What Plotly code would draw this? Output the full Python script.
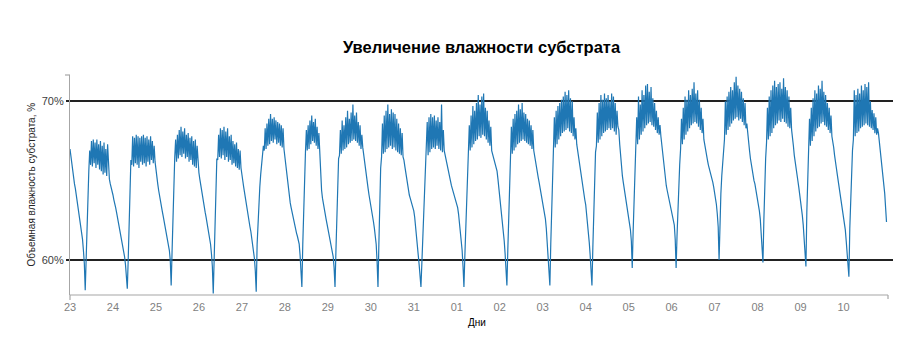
import numpy as np
import plotly.graph_objects as go

# Day tick labels (one per calendar day)
day_labels = ["23", "24", "25", "26", "27", "28", "29", "30", "31",
              "01", "02", "03", "04", "05", "06", "07", "08", "09", "10"]

# Volumetric substrate moisture (%), read every 30 min (48 readings per day)
d23 = [67.0, 66.5, 66.0, 65.6, 65.2, 64.8, 64.5, 64.1, 63.8, 63.4, 63.1, 62.7, 62.4, 61.9, 61.3, 60.6, 59.8, 58.1,
       60.3, 62.2, 64.0, 65.6, 66.9,
       66.0, 67.5, 65.9, 67.6, 66.1, 67.4, 65.8, 67.6, 66.0, 67.3, 65.7, 67.5, 65.6, 67.2, 65.4, 67.4, 65.5, 67.0, 65.3, 67.3, 65.4,
       65.1, 64.8, 64.6, 64.3]
d24 = [64.1, 63.8, 63.6, 63.3, 63.0, 62.7, 62.4, 62.1, 61.8, 61.5, 61.2, 60.9, 60.6, 60.2, 59.7, 59.1, 58.2,
       60.0, 62.3, 64.5, 66.3,
       66.0, 67.8, 65.9, 67.7, 66.1, 67.9, 66.0, 67.8, 65.8, 67.7, 66.2, 67.8, 66.0, 67.9, 66.1, 67.7, 65.9, 67.8, 66.2, 67.6,
       66.0, 67.8, 66.3, 67.5, 66.1, 67.2, 66.2]
d25 = [65.6, 65.2, 64.8, 64.4, 64.0, 63.7, 63.4, 63.1, 62.8, 62.5, 62.2, 61.9, 61.6, 61.3, 61.0, 60.6, 60.0, 58.4,
       60.5, 62.8, 65.0, 66.5,
       67.6, 66.2, 67.9, 66.4, 68.2, 66.6, 68.4, 66.5, 68.1, 66.7, 68.3, 66.4, 67.9, 66.5, 68.0, 66.2, 67.7, 66.3, 67.8, 66.0,
       67.5, 65.9, 67.6, 65.8, 67.2, 65.9]
d26 = [65.5, 65.1, 64.7, 64.3, 64.0, 63.6, 63.3, 63.0, 62.7, 62.4, 62.1, 61.8, 61.4, 61.0, 60.4, 59.6, 57.9,
       60.2, 62.6, 64.8, 66.4,
       66.3, 67.9, 66.5, 68.3, 66.4, 68.2, 66.6, 68.4, 66.3, 68.1, 66.5, 68.3, 66.2, 67.8, 66.3, 67.9, 66.0, 67.5, 66.1, 67.3,
       65.9, 67.4, 65.8, 67.0, 65.7, 66.9, 65.8]
d27 = [65.5, 65.0, 64.6, 64.2, 63.8, 63.5, 63.2, 62.9, 62.5, 62.1, 61.8, 61.4, 61.0, 60.6, 60.1, 59.3, 58.0,
       61.0, 62.5, 63.5, 64.6, 65.4, 66.2, 66.8, 67.2,
       66.9, 68.3, 67.0, 68.6, 67.2, 68.9, 67.3, 69.2, 67.5, 68.9, 67.4, 69.0, 67.6, 68.8, 67.3, 68.7, 67.4, 68.6, 67.2, 68.5,
       67.1, 68.3, 67.0]
d28 = [66.5, 65.9, 65.3, 64.8, 64.4, 64.0, 63.6, 63.3, 63.0, 62.7, 62.4, 62.1, 61.9, 61.7, 61.5, 61.3, 61.0, 60.3, 59.2, 58.3,
       61.0, 63.5, 65.8, 66.8,
       68.2, 66.9, 68.5, 67.0, 68.8, 67.3, 69.1, 67.5, 68.7, 67.4, 68.9, 67.2, 68.4, 67.0, 68.0, 66.8,
       65.0, 64.4, 63.9, 63.5, 63.2, 62.9, 62.6, 62.3]
d29 = [62.0, 61.8, 61.6, 61.3, 61.0, 60.6, 60.2, 59.5, 58.3,
       60.5, 62.8, 64.9, 66.4,
       66.6, 68.2, 66.7, 68.8, 66.9, 68.5, 67.0, 69.0, 67.1, 69.4, 67.3, 68.9, 67.4, 69.3, 67.5, 69.8, 67.6, 69.1, 67.5, 69.3,
       67.4, 68.7, 67.2, 68.5, 67.0, 67.9,
       67.1, 66.6, 66.1, 65.7, 65.3, 64.9, 64.5, 64.1, 63.8]
d30 = [63.5, 63.2, 62.8, 62.4, 62.0, 61.6, 61.0, 59.9, 58.3,
       61.0, 63.6, 65.8,
       66.5, 68.6, 66.7, 69.1, 66.8, 69.4, 67.0, 69.8, 67.1, 69.2, 67.2, 69.5, 67.0, 69.3, 67.1, 69.2, 66.9, 68.9, 66.8, 68.6,
       66.7, 68.3, 66.6, 68.0, 66.5, 66.3,
       65.9, 65.5, 65.1, 64.7, 64.4, 64.1, 63.9, 63.7, 63.5, 63.3]
d31 = [63.1, 62.7, 62.2, 61.7, 60.9, 60.3, 59.7, 59.0, 58.3,
       59.8, 61.2, 62.6, 64.0, 65.3, 66.3,
       68.7, 66.6, 69.0, 66.8, 69.2, 67.0, 69.0, 67.1, 69.1, 67.0, 68.8, 67.2, 69.0, 67.0, 68.7, 66.9, 69.8, 66.8, 68.2, 66.9,
       66.6, 66.3, 66.0, 65.7, 65.4, 65.1, 64.9, 64.7, 64.5, 64.3, 64.1, 63.9, 63.8]
d01 = [63.6, 63.3, 62.9, 62.4, 61.9, 61.4, 60.6, 59.6, 58.3,
       60.2, 62.0, 63.8, 65.4, 66.6,
       68.5, 66.9, 69.1, 67.1, 69.7, 67.3, 69.4, 67.5, 69.9, 67.6, 70.4, 67.8, 69.8, 67.7, 70.3, 67.9, 70.5, 67.8, 69.6, 67.6,
       69.4, 67.4, 68.8, 67.2, 68.4, 66.9,
       66.7, 66.5, 66.3, 66.1, 65.9, 65.6, 65.1, 64.6]
d02 = [64.1, 63.6, 63.1, 62.5, 61.9, 61.2, 60.4, 59.5, 58.4,
       60.6, 62.8, 65.0, 66.5,
       68.4, 66.7, 68.9, 66.9, 69.2, 67.1, 69.4, 67.3, 69.8, 67.4, 69.5, 67.5, 69.9, 67.6, 69.3, 67.5, 69.2, 67.4, 68.9, 67.3,
       68.8, 67.2, 68.5, 67.0, 68.2, 66.9,
       66.5, 66.2, 65.8, 65.5, 65.2, 64.9, 64.6, 64.3, 63.9]
d03 = [63.6, 63.2, 62.9, 62.6, 62.0, 61.1, 60.3, 59.4, 58.4,
       61.0, 63.4, 65.5, 66.8,
       69.0, 67.1, 69.4, 67.3, 69.7, 67.6, 69.9, 67.8, 70.1, 68.0, 70.3, 68.1, 70.6, 68.2, 70.4, 68.3, 70.7, 68.1, 70.2, 68.0,
       70.0, 67.8, 69.0, 67.6, 68.3, 67.3,
       66.9, 66.4, 65.9, 65.5, 65.1, 64.7, 64.4, 64.1, 63.8]
d04 = [63.5, 63.0, 62.4, 61.8, 61.1, 60.3, 59.4, 58.4,
       60.8, 63.0, 65.2, 66.8,
       67.2, 69.3, 67.4, 69.9, 67.6, 70.4, 67.8, 70.1, 68.0, 70.5, 68.1, 70.2, 68.2, 70.4, 68.3, 70.0, 68.2, 70.5, 68.3, 70.3,
       68.1, 69.9, 67.9, 69.4, 68.4, 68.2,
       67.3, 66.4, 65.8, 65.3, 64.9, 64.5, 64.2, 63.9, 63.6, 63.2]
d05 = [62.8, 62.4, 61.9, 61.2, 59.5,
       61.8, 64.0, 65.9, 67.1,
       69.0, 67.3, 70.3, 67.6, 69.8, 67.9, 70.7, 68.1, 70.4, 68.3, 71.0, 68.5, 71.1, 68.6, 70.6, 68.7, 70.9, 68.5, 70.2, 68.4,
       69.9, 68.2, 69.4, 68.0, 69.0, 67.9, 68.5,
       67.8, 67.2, 66.6, 66.0, 65.5, 65.1, 64.7, 64.4, 64.1, 63.8, 63.5, 63.3]
d06 = [63.1, 62.8, 62.5, 62.2, 61.3, 59.5,
       61.5, 63.3, 64.8, 66.0, 67.0,
       68.9, 67.3, 69.6, 67.6, 70.3, 67.9, 70.1, 68.1, 70.7, 68.3, 70.4, 68.5, 70.8, 68.6, 71.2, 68.7, 70.5, 68.6, 70.7, 68.4,
       70.1, 68.2, 69.6, 68.0, 68.9, 67.6,
       67.2, 66.9, 66.6, 66.3, 66.0, 65.8, 65.5, 65.3, 65.1, 64.9, 64.6]
d07 = [64.3, 63.9, 63.5, 62.9, 62.1, 60.0,
       62.7, 64.2, 65.3, 66.2, 66.9, 67.6,
       70.0, 67.9, 70.3, 68.2, 70.6, 68.4, 70.9, 68.6, 70.7, 68.8, 71.2, 68.9, 71.55, 69.0, 71.0, 68.8, 70.8, 68.9, 70.6, 68.7,
       70.2, 68.5, 69.9, 68.3, 68.6,
       67.9, 67.4, 66.9, 66.4, 66.0, 65.6, 65.3, 65.0, 64.8, 64.5, 64.2]
d08 = [63.9, 63.5, 63.1, 62.6, 61.8, 60.6, 59.85,
       62.5, 64.8, 66.4, 67.4,
       69.6, 67.6, 70.3, 67.8, 70.7, 68.0, 71.0, 68.3, 71.3, 68.5, 70.9, 68.6, 71.1, 68.8, 71.2, 68.7, 70.8, 68.9, 71.45, 68.7,
       70.9, 68.6, 70.7, 68.4, 70.3, 68.3, 69.6, 68.2,
       67.8, 67.2, 66.6, 66.1, 65.8, 65.4, 65.0, 64.6, 64.2]
d09 = [63.8, 63.3, 62.8, 62.2, 61.5, 60.6, 59.6,
       63.0, 65.3, 66.8,
       68.9, 67.2, 69.6, 67.5, 70.2, 67.8, 70.7, 68.1, 70.5, 68.3, 71.0, 68.4, 70.8, 68.6, 71.3, 68.7, 70.6, 68.5, 70.4, 68.4,
       69.9, 68.2, 69.6, 68.0, 69.1, 67.8,
       67.5, 67.1, 66.6, 66.3, 65.8, 65.4, 65.0, 64.7, 64.3, 63.9, 63.6, 63.2]
d10 = [62.8, 62.4, 61.9, 61.2, 60.4, 59.6, 58.95,
       62.0, 64.2, 65.8, 66.9, 67.6,
       70.7, 67.8, 70.4, 68.0, 70.8, 68.1, 70.5, 68.3, 71.0, 68.4, 70.7, 68.5, 71.1, 68.6, 70.9, 68.5, 71.2, 68.4, 70.0, 68.3,
       69.45, 68.2, 69.25, 68.0, 69.0, 67.9, 68.3, 68.0,
       67.5, 66.9, 66.3, 65.8, 65.3, 64.8, 64.2, 63.3, 62.4]

days_data = [d23, d24, d25, d26, d27, d28, d29, d30, d31,
             d01, d02, d03, d04, d05, d06, d07, d08, d09, d10]
readings_per_day = 48

# time axis in days since the start of day "23"
x_vals, y_vals = [], []
for k, vals in enumerate(days_data):
    for j, v in enumerate(vals):
        x_vals.append(k + j / readings_per_day)
        y_vals.append(v)

# page layout (the html body adds an 8px offset, compensated here)
OFF = 8
W, H = 921 - OFF, 358 - OFF
L, R, T, B = 69.5 - OFF, 893 - OFF, 75 - OFF, 295 - OFF
x_end_px = 888 - OFF
px_per_day = 43.0
x_max = (R - L) / px_per_day

fig = go.Figure()
fig.add_trace(go.Scatter(
    x=x_vals, y=y_vals, mode="lines",
    line=dict(color="#1f77b4", width=1.2),
    hoverinfo="skip", showlegend=False,
))

font_family = "Liberation Sans, Arial, sans-serif"

xe = (x_end_px - L) / (R - L)
pw, ph = R - L, B - T
shapes = [
    dict(type="line", xref="paper", yref="paper", x0=0, x1=xe, y0=0, y1=0,
         line=dict(color="#a6a6a6", width=1.2)),
    dict(type="line", xref="paper", yref="paper", x0=xe, x1=xe, y0=0, y1=-4 / ph,
         line=dict(color="#a6a6a6", width=1.2)),
    dict(type="line", xref="paper", yref="paper", x0=0, x1=0, y0=0, y1=-5 / ph,
         line=dict(color="#a6a6a6", width=1.2)),
    dict(type="line", xref="paper", yref="paper", x0=-5 / pw, x1=0, y0=1, y1=1,
         line=dict(color="#a6a6a6", width=1.2)),
]

annotations = [
    dict(text="Дни", xref="paper", yref="paper",
         x=(477 - OFF - L) / pw, y=-(322 - OFF - B) / ph, xanchor="center", yanchor="middle",
         showarrow=False, font=dict(family=font_family, size=10, color="black")),
    dict(text="Объемная влажность субстрата, %", xref="paper", yref="paper",
         x=-(L - (30 - OFF)) / pw, y=0.5, xanchor="center", yanchor="middle", textangle=-90,
         showarrow=False, font=dict(family=font_family, size=10, color="#262626")),
]

fig.update_layout(
    width=W, height=H,
    margin=dict(l=L, r=W - R, t=T, b=H - B, pad=0, autoexpand=False),
    paper_bgcolor="white", plot_bgcolor="white",
    font=dict(family=font_family, size=11, color="#404040"),
    title=dict(text="<b>Увеличение влажности субстрата</b>",
               x=0.5, xanchor="center", xref="paper",
               y=1 - (47 - OFF) / H, yanchor="middle", yref="container",
               font=dict(family=font_family, size=16.5, color="black")),
    xaxis=dict(range=[0, x_max], tickmode="array", automargin=False,
               tickvals=list(range(len(day_labels))), ticktext=day_labels,
               showgrid=False, zeroline=False, showline=False, ticks="",
               ticklabelstandoff=4,
               tickfont=dict(size=11, color="#7f7f7f")),
    yaxis=dict(range=[57.8, 71.66], tickmode="array", tickvals=[60, 70], automargin=False,
               ticktext=["60%", "70%"],
               showgrid=True, gridcolor="#222222", gridwidth=2,
               zeroline=False, showline=True, linecolor="#a6a6a6", linewidth=1.2,
               ticks="outside", ticklen=3, tickcolor="#222222", tickwidth=2,
               tickfont=dict(size=11, color="#404040")),
    shapes=shapes,
    annotations=annotations,
)

fig.write_html("out.html")
